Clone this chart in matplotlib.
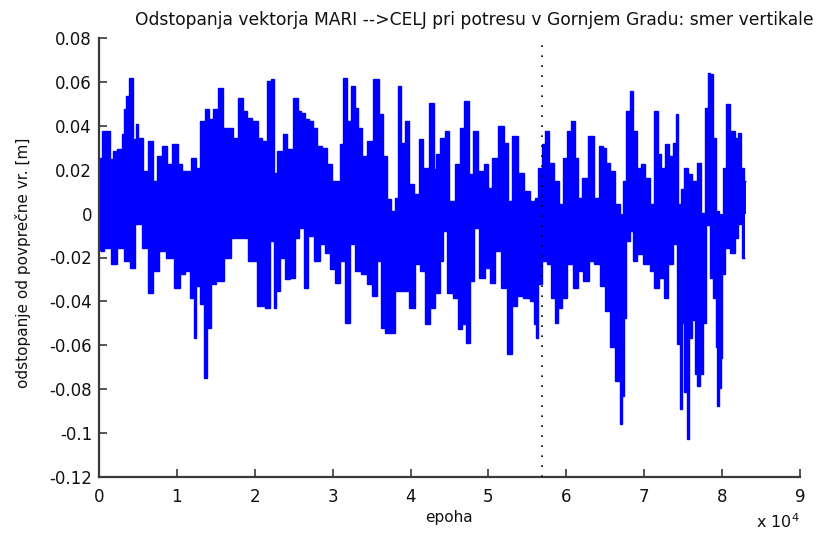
import matplotlib
matplotlib.use("Agg")
import matplotlib.pyplot as plt
import numpy as np

# ---- data (epoch in units of 1e4, deviation in m) ----
hi_epoch = [0.013, 0.064, 0.116, 0.167, 0.205, 0.270, 0.308, 0.334, 0.372, 0.411,
            0.462, 0.488, 0.526, 0.591, 0.655, 0.719, 0.783, 0.847, 0.911, 0.976,
            1.040, 1.104, 1.168, 1.207, 1.271, 1.335, 1.386, 1.438, 1.489, 1.566,
            1.617, 1.682, 1.746, 1.836, 1.874, 1.938, 2.003, 2.067, 2.131, 2.182,
            2.234, 2.259, 2.324, 2.388, 2.452, 2.529, 2.580, 2.619, 2.670, 2.734,
            2.773, 2.837, 2.901, 2.965, 3.030, 3.068, 3.119, 3.158, 3.222, 3.261,
            3.312, 3.350, 3.415, 3.479, 3.569, 3.633, 3.671, 3.723, 3.774, 3.825,
            3.864, 3.902, 3.954, 4.018, 4.082, 4.146, 4.185, 4.288, 4.313, 4.352,
            4.416, 4.467, 4.531, 4.608, 4.660, 4.724, 4.775, 4.827, 4.917, 4.981,
            5.019, 5.083, 5.173, 5.237, 5.276, 5.340, 5.430, 5.494, 5.571, 5.623,
            5.661, 5.712, 5.751, 5.815, 5.879, 5.944, 5.982, 6.046, 6.085, 6.136,
            6.175, 6.239, 6.329, 6.393, 6.457, 6.496, 6.534, 6.585, 6.662, 6.714,
            6.739, 6.791, 6.842, 6.881, 6.932, 6.983, 7.047, 7.112, 7.150, 7.202,
            7.240, 7.291, 7.356, 7.394, 7.420, 7.458, 7.497, 7.535, 7.587, 7.651,
            7.702, 7.753, 7.805, 7.831, 7.869, 7.908, 7.933, 7.997, 8.036, 8.074,
            8.139, 8.190, 8.228, 8.267, 8.306]
hi_dev = [0.0255, 0.0378, 0.0378, 0.0251, 0.0287, 0.0296, 0.0364, 0.0478, 0.0538, 0.0620,
          0.0342, 0.0410, 0.0346, 0.0196, 0.0333, 0.0150, 0.0264, 0.0310, 0.0228, 0.0319,
          0.0228, 0.0196, 0.0196, 0.0255, 0.0210, 0.0424, 0.0478, 0.0433, 0.0478, 0.0574,
          0.0392, 0.0392, 0.0346, 0.0528, 0.0469, 0.0437, 0.0424, 0.0346, 0.0333, 0.0606,
          0.0615, 0.0187, 0.0287, 0.0364, 0.0296, 0.0528, 0.0469, 0.0460, 0.0433, 0.0424,
          0.0392, 0.0310, 0.0301, 0.0228, 0.0150, 0.0150, 0.0319, 0.0620, 0.0424, 0.0583,
          0.0483, 0.0392, 0.0264, 0.0333, 0.0615, 0.0456, 0.0264, 0.0068, 0.0014, 0.0073,
          0.0583, 0.0323, 0.0424, 0.0137, 0.0091, 0.0342, 0.0210, 0.0506, 0.0205, 0.0273,
          0.0346, 0.0378, 0.0059, 0.0228, 0.0392, 0.0515, 0.0182, 0.0378, 0.0196, 0.0228,
          0.0118, 0.0255, 0.0401, 0.0323, 0.0059, 0.0355, 0.0187, 0.0105, 0.0059, 0.0073,
          0.0210, 0.0319, 0.0378, 0.0232, 0.0150, 0.0046, 0.0255, 0.0378, 0.0424, 0.0255,
          0.0073, 0.0164, 0.0355, 0.0073, 0.0310, 0.0301, 0.0232, 0.0196, 0.0046, -0.0273,
          0.0150, 0.0469, 0.0560, 0.0378, 0.0210, 0.0228, 0.0164, 0.0046, 0.0469, 0.0273,
          0.0210, 0.0319, 0.0264, 0.0323, 0.0456, 0.0046, 0.0114, 0.0210, 0.0182, 0.0150,
          0.0232, 0.0005, 0.0483, 0.0642, 0.0638, 0.0346, 0.0014, -0.0169, 0.0210, 0.0501,
          0.0378, 0.0346, 0.0369, 0.0210, 0.0150]

lo_epoch = [0.013, 0.116, 0.180, 0.270, 0.372, 0.424, 0.501, 0.591, 0.680, 0.719,
            0.809, 0.911, 1.014, 1.078, 1.142, 1.207, 1.232, 1.271, 1.335, 1.361,
            1.425, 1.451, 1.553, 1.656, 1.746, 1.874, 1.964, 2.105, 2.169, 2.234,
            2.259, 2.298, 2.349, 2.426, 2.490, 2.542, 2.606, 2.657, 2.709, 2.811,
            2.876, 2.927, 3.004, 3.068, 3.119, 3.196, 3.261, 3.325, 3.415, 3.479,
            3.543, 3.594, 3.646, 3.710, 3.774, 3.825, 3.928, 4.031, 4.095, 4.159,
            4.223, 4.288, 4.352, 4.403, 4.442, 4.506, 4.583, 4.634, 4.698, 4.737,
            4.788, 4.852, 4.917, 4.994, 5.058, 5.122, 5.212, 5.276, 5.340, 5.404,
            5.494, 5.571, 5.597, 5.623, 5.661, 5.725, 5.789, 5.828, 5.879, 5.918,
            5.982, 6.046, 6.136, 6.175, 6.264, 6.329, 6.393, 6.470, 6.534, 6.598,
            6.662, 6.714, 6.727, 6.752, 6.791, 6.842, 6.868, 6.945, 7.035, 7.112,
            7.150, 7.227, 7.279, 7.343, 7.394, 7.446, 7.471, 7.497, 7.535, 7.561,
            7.599, 7.625, 7.677, 7.689, 7.741, 7.779, 7.818, 7.869, 7.908, 7.933,
            7.946, 7.972, 7.997, 8.010, 8.062, 8.139, 8.190, 8.228, 8.293]
lo_dev = [-0.0169, -0.0155, -0.0228, -0.0155, -0.0214, -0.0246, -0.0046, -0.0155, -0.0364, -0.0260,
          -0.0169, -0.0200, -0.0337, -0.0273, -0.0260, -0.0383, -0.0569, -0.0328, -0.0410, -0.0747,
          -0.0519, -0.0319, -0.0305, -0.0200, -0.0109, -0.0109, -0.0214, -0.0419, -0.0428, -0.0123,
          -0.0428, -0.0351, -0.0200, -0.0296, -0.0292, -0.0109, -0.0064, -0.0337, -0.0100, -0.0214,
          -0.0137, -0.0178, -0.0251, -0.0314, -0.0214, -0.0497, -0.0137, -0.0260, -0.0273, -0.0319,
          -0.0374, -0.0214, -0.0519, -0.0542, -0.0542, -0.0351, -0.0351, -0.0428, -0.0228, -0.0260,
          -0.0501, -0.0428, -0.0364, -0.0214, -0.0077, -0.0364, -0.0383, -0.0524, -0.0501, -0.0588,
          -0.0305, -0.0064, -0.0292, -0.0246, -0.0314, -0.0169, -0.0337, -0.0638, -0.0419, -0.0374,
          -0.0383, -0.0396, -0.0501, -0.0565, -0.0319, -0.0214, -0.0228, -0.0383, -0.0497, -0.0428,
          -0.0383, -0.0228, -0.0337, -0.0260, -0.0305, -0.0214, -0.0228, -0.0328, -0.0442, -0.0610,
          -0.0761, -0.0957, -0.0829, -0.0474, -0.0123, -0.0077, -0.0214, -0.0182, -0.0228, -0.0260,
          -0.0337, -0.0292, -0.0383, -0.0228, -0.0137, -0.0592, -0.0888, -0.0497, -0.0815, -0.1025,
          -0.0565, -0.0487, -0.0729, -0.0784, -0.0729, -0.0497, -0.0050, -0.0292, -0.0383, -0.0610,
          -0.0875, -0.0793, -0.0656, -0.0273, -0.0155, -0.0178, -0.0109, -0.0046, -0.0200]

earthquake_epoch = 5.687   # x 1e4
x_ticks = [0, 1, 2, 3, 4, 5, 6, 7, 8, 9]
y_ticks = [-0.12, -0.1, -0.08, -0.06, -0.04, -0.02, 0, 0.02, 0.04, 0.06, 0.08]
y_ticklabels = ["-0.12", "-0.1", "-0.08", "-0.06", "-0.04", "-0.02", "0",
                "0.02", "0.04", "0.06", "0.08"]

title = "Odstopanja vektorja MARI -->CELJ pri potresu v Gornjem Gradu: smer vertikale"
xlabel = "epoha"
ylabel = "odstopanje od povprečne vr. [m]"

plt.rcParams['font.family'] = ['DejaVu Sans']

fig = plt.figure(figsize=(8.21, 5.39), dpi=100)
ax = fig.add_axes([99/821, 62/539, 701/821, 439/539])

scale = 1e4
blue = (0, 0, 1)


def step_edges(ep):
    e = np.asarray(ep) * scale
    mids = (e[1:] + e[:-1]) / 2
    return np.concatenate([[e[0] - 60], mids, [e[-1] + 60]])


# upper and lower envelope of the dense series, drawn as stair silhouettes
ax.stairs(hi_dev, step_edges(hi_epoch), baseline=0, fill=True,
          color=blue, linewidth=0, zorder=2)
ax.stairs(lo_dev, step_edges(lo_epoch), baseline=0, fill=True,
          color=blue, linewidth=0, zorder=2)
ax.stairs(hi_dev, step_edges(hi_epoch), baseline=None, color=blue,
          linewidth=1.0, zorder=2)
ax.stairs(lo_dev, step_edges(lo_epoch), baseline=None, color=blue,
          linewidth=1.0, zorder=2)

ax.axvline(earthquake_epoch * scale, color='black', linestyle=(0, (1, 5)),
           linewidth=1.2, zorder=3)

ax.set_xlim(0, 9 * scale)
ax.set_ylim(-0.12, 0.08)
ax.set_xticks([t * scale for t in x_ticks])
ax.set_xticklabels([str(t) for t in x_ticks])
ax.set_yticks(y_ticks)
ax.set_yticklabels(y_ticklabels)

axis_col = '#3a3a3a'
for side in ['top', 'right']:
    ax.spines[side].set_visible(False)
for side in ['left', 'bottom']:
    ax.spines[side].set_color(axis_col)
    ax.spines[side].set_linewidth(1.6)
ax.tick_params(direction='in', length=6, width=1.2, color=axis_col,
               labelsize=12, labelcolor='#111111')
ax.tick_params(axis='x', pad=8)
ax.tick_params(axis='y', pad=5)

ax.set_xlabel(xlabel, fontsize=11, color='#111111')
ax.xaxis.set_label_coords((449 - 99) / 701, -(510 - 477) / 439)
ax.set_ylabel(ylabel, fontsize=11, color='#111111')
ax.yaxis.set_label_coords((31 - 99) / 701, (477 - 263) / 439)
fig.text(474/821, 1 - 20/539, title, ha='center', va='center', fontsize=12.3,
         color='#111111')
fig.text(778/821, 1 - 522/539, r'x 10$^{4}$', ha='center', va='center',
         fontsize=11.5, color='#111111')

fig.savefig("out.png", dpi=100)
